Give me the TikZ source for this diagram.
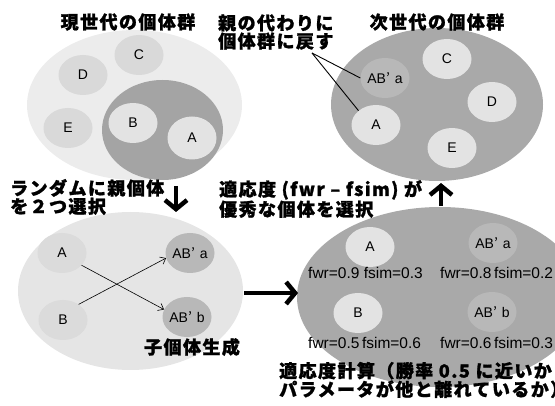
\documentclass[tikz,border=0pt]{standalone}
\usepackage{fontspec}
\setmainfont{Liberation Sans}
\newfontfamily\cjk[LetterSpace=8,BoldFeatures={FakeBold=1.3}]{Noto Sans CJK JP}
\newfontfamily\cjkp{Noto Sans CJK JP}
\usetikzlibrary{shapes.geometric,arrows.meta}
\definecolor{popA}{HTML}{ECECEC}
\definecolor{popB}{HTML}{A4A4A4}
\definecolor{popC}{HTML}{A9A9A9}
\definecolor{popD}{HTML}{E5E5E5}
\definecolor{cellL}{HTML}{D9D9D9}
\definecolor{cellW}{HTML}{E3E3E3}
\definecolor{cellM}{HTML}{B8B8B8}
\tikzset{
  pop/.style={ellipse,draw=none,inner sep=0pt},
  cell/.style={ellipse,draw=none,inner sep=0pt,minimum width=49pt,minimum height=40pt,font=\fontsize{14}{14}\selectfont},
  jp/.style={inner sep=0pt,font=\fontsize{18}{16.5}\selectfont\cjk\bfseries},
  fit/.style={inner sep=0pt,font=\fontsize{15.5}{15.5}\selectfont},
  bigarrow/.style={line width=4.5pt,-{Straight Barb[length=9pt,width=22pt,line width=4.5pt]}},
  thinarrow/.style={line width=0.6pt,-{Straight Barb[length=5pt,width=8pt]}},
  pointer/.style={line width=0.9pt}
}
\newcommand{\ap}{{\cjkp ’}\hspace{5pt}}
\begin{document}
\begin{tikzpicture}[x=1pt,y=-1pt]
\useasboundingbox (0,0) rectangle (555,406);
\clip (0,0) rectangle (555,406);

% current generation
\node[pop,fill=popA,minimum width=215pt,minimum height=150pt] (cur) at (134.5,105) {};
\node[pop,fill=popB,minimum width=121pt,minimum height=100pt] (sel) at (162.5,130) {};
\node[cell,fill=cellL] (cC) at (139,55) {\makebox[0pt]{C}};
\node[cell,fill=cellL] (cD) at (83,75) {\makebox[0pt]{D}};
\node[cell,fill=cellL] (cE) at (68,128) {\makebox[0pt]{E}};
\node[cell,fill=cellW] (cB) at (133,123) {\makebox[0pt]{B}};
\node[cell,fill=cellW,minimum height=43pt] (cA) at (192,138) {\makebox[0pt]{A}};
\node[jp] (tcur) at (128,22) {現世代の個体群};

% next generation
\node[pop,fill=popC,minimum width=212pt,minimum height=153pt] (nxt) at (437,104.5) {};
\node[cell,fill=cellM] (nAB) at (385,78) {\makebox[0pt]{AB\ap a}};
\node[cell,fill=cellW] (nC) at (447,59) {\makebox[0pt]{C}};
\node[cell,fill=cellW] (nD) at (492,102) {\makebox[0pt]{D}};
\node[cell,fill=cellW] (nA) at (376,125) {\makebox[0pt]{A}};
\node[cell,fill=cellW] (nE) at (452,148) {\makebox[0pt]{E}};
\node[jp] (tnxt) at (437,22) {次世代の個体群};
\node[jp,anchor=west,align=left] (tback) at (218,32) {親の代わりに\\個体群に戻す};
\coordinate (pt) at (312,53);
\draw[pointer] (pt) -- (nAB.west);
\draw[pointer] (pt) -- (nA.north west);

% children generation
\node[pop,fill=popD,minimum width=225pt,minimum height=158pt] (kid) at (130.5,291) {};
\node[cell,fill=cellL!80!popD] (kA) at (62,253) {\makebox[0pt]{A}};
\node[cell,fill=cellL!80!popD] (kB) at (63,320) {\makebox[0pt]{B}};
\node[cell,fill=cellM] (kABa) at (190,253) {\makebox[0pt]{AB\ap a}};
\node[cell,fill=cellM] (kABb) at (187,317) {\makebox[0pt]{AB\ap b}};
\draw[thinarrow] (kA.-32) -- (kABb.162);
\draw[thinarrow] (kB.45) -- (kABa.192);
\node[jp] (tkid) at (192,347) {子個体生成};
\node[jp,anchor=west,align=left] (trand) at (10,197) {ランダムに親個体\\を２つ選択};

% fitness evaluation
\node[pop,fill=popC,minimum width=286pt,minimum height=180pt] (fit) at (440,297) {};
\node[cell,fill=cellW] (fA) at (370,247) {\makebox[0pt]{A}};
\node[cell,fill=cellM] (fABa) at (493,243) {\makebox[0pt]{AB\ap a}};
\node[cell,fill=cellW] (fB) at (358,313) {\makebox[0pt]{B}};
\node[cell,fill=cellM] (fABb) at (492,312) {\makebox[0pt]{AB\ap b}};
\node[fit,anchor=west] (vA) at (308,273) {fwr=0.9 fsim=0.3};
\node[fit,anchor=west] (vABa) at (440,273) {fwr=0.8\,fsim=0.2};
\node[fit,anchor=west] (vB) at (308,343) {fwr=0.5\,fsim=0.6};
\node[fit,anchor=west] (vABb) at (440,343) {fwr=0.6\,fsim=0.3};
\node[jp,anchor=west,align=left] (tsel) at (219,199) {適応度 (fwr – fsim) が\\優秀な個体を選択};
\node[jp,anchor=west,align=left] (tcalc) at (279,380) {適応度計算（勝率 0.5 に近いか\\パラメータが他と離れているか）};

% big arrows
\coordinate (d1) at (176,186);
\coordinate (d2) at (176,212);
\draw[bigarrow] (d1) -- (d2);
\coordinate (u1) at (441,206);
\coordinate (u2) at (441,183);
\draw[bigarrow] (u1) -- (u2);
\coordinate (r1) at (244,293);
\coordinate (r2) at (298,293);
\draw[bigarrow] (r1) -- (r2);
\end{tikzpicture}
\end{document}
